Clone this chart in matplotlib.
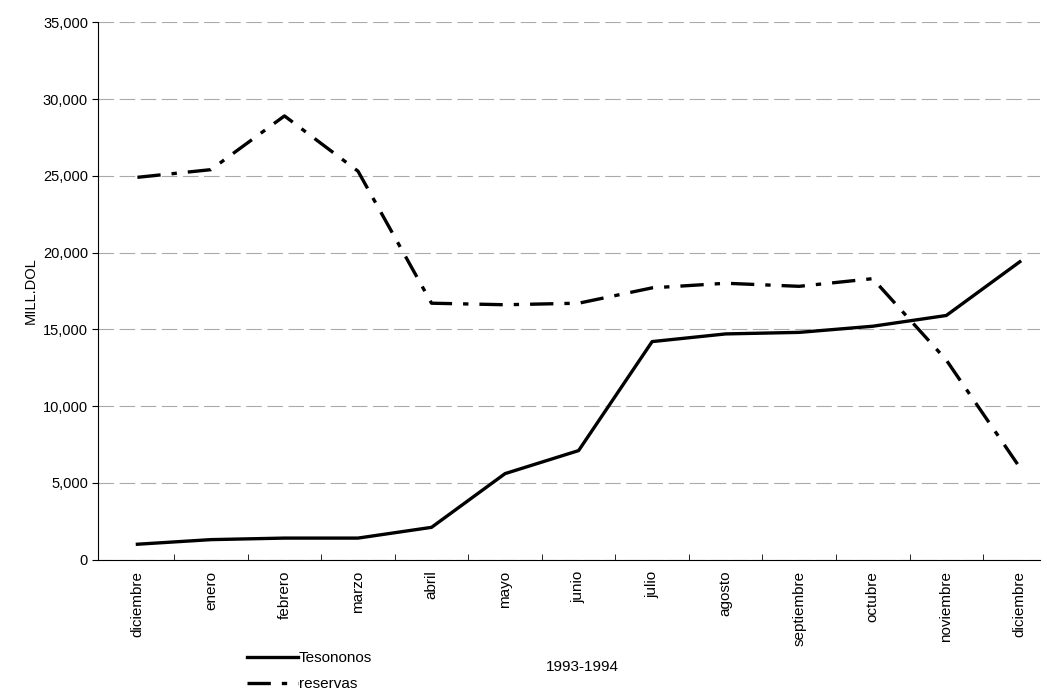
import matplotlib.pyplot as plt
import numpy as np

plt.rcParams['font.family'] = ['Liberation Sans', 'DejaVu Sans']

meses = ['diciembre', 'enero', 'febrero', 'marzo', 'abril', 'mayo', 'junio',
         'julio', 'agosto', 'septiembre', 'octubre', 'noviembre', 'diciembre']
tesobonos = [1000, 1300, 1400, 1400, 2100, 5600, 7100,
             14200, 14700, 14800, 15200, 15900, 19400]
reservas = [24900, 25400, 28900, 25300, 16700, 16600, 16700,
            17700, 18000, 17800, 18300, 13000, 6000]
yticks = [0, 5000, 10000, 15000, 20000, 25000, 30000, 35000]

fig = plt.figure(figsize=(10.47, 6.96), dpi=100)
ax = fig.add_axes([0.094, 0.196, 0.899, 0.772])

x = np.arange(len(meses))
ax.plot(x, tesobonos, color='black', lw=2.4, label='Tesononos')
ax.plot(x, reservas, color='black', lw=2.4, dashes=(7, 3.3, 1.6, 3.3), label='reservas')

ax.set_xlim(-0.53, 12.27)
ax.set_ylim(0, 35000)
ax.set_yticks(yticks)
ax.set_yticklabels([f'{v:,}' for v in yticks], fontsize=10.5)
ax.yaxis.grid(True, color='#aaaaaa', lw=0.8, ls=(0, (14, 5)))
ax.set_axisbelow(True)

ax.set_xticks(x)
ax.set_xticklabels(meses, rotation=90, fontsize=11)
ax.tick_params(axis='x', length=0, pad=8)
ax.set_xticks(np.arange(0.5, 12.5, 1), minor=True)
ax.tick_params(axis='x', which='minor', length=4, direction='in')
ax.tick_params(axis='y', length=4, direction='out')

for s in ['top', 'right']:
    ax.spines[s].set_visible(False)

ax.set_ylabel('MILL.DOL', fontsize=10.5)
fig.text(0.556, 0.042, '1993-1994', fontsize=11, ha='center', va='center')

fig.legend(loc='upper left', bbox_to_anchor=(0.236, 0.064), frameon=False,
           fontsize=11, handlelength=3.3, handletextpad=0.1, labelspacing=0.75,
           borderaxespad=0, borderpad=0)

fig.savefig('out.png', dpi=100)
